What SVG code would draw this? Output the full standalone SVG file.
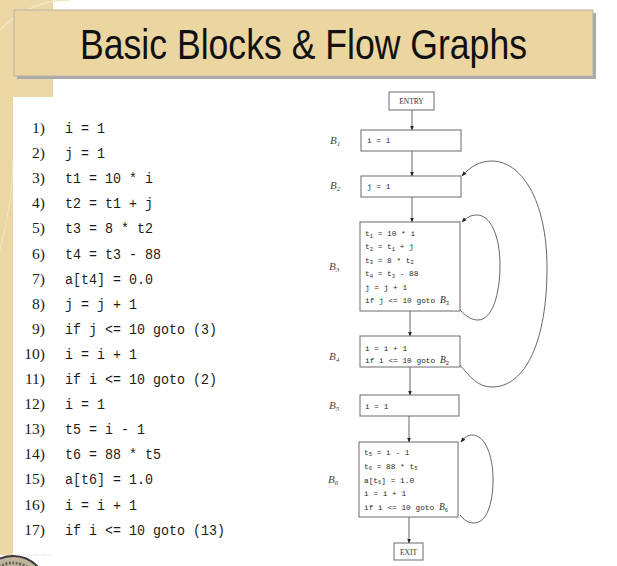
<svg xmlns="http://www.w3.org/2000/svg" width="617" height="566" viewBox="0 0 617 566">
<style>
.code{font-family:"Liberation Mono","DejaVu Sans Mono",monospace;font-size:14.5px;fill:#1a1a1a}
.num{font-family:"Liberation Serif","DejaVu Serif",serif;font-size:15.5px;fill:#1a1a1a;text-anchor:end}
.box{fill:#fff;stroke:#6a6a6a;stroke-width:1}
.bt{font-family:"Liberation Mono","DejaVu Sans Mono",monospace;font-size:7.8px;fill:#2a2a2a}
.sub{font-size:5.5px}
.lbl{font-family:"Liberation Serif","DejaVu Serif",serif;font-style:italic;font-size:11px;fill:#444}
.lsub{font-size:7px}
.edge{fill:none;stroke:#555;stroke-width:0.9}
</style>
<defs>
<marker id="ah" viewBox="0 0 10 10" refX="9" refY="5" markerWidth="5" markerHeight="5" orient="auto" markerUnits="userSpaceOnUse">
<path d="M0,1 L10,5 L0,9 z" fill="#222"/>
</marker>
</defs>
<rect x="0" y="0" width="617" height="566" fill="#fff"/>
<g id="decor">
<rect x="0" y="0" width="53" height="97" fill="#ecd7a6"/>
<rect x="0" y="0" width="13" height="555" fill="#ecd6a4"/>
<path d="M0,30 Q30,0 70,0" fill="none" stroke="#f3e6c6" stroke-width="1.5"/>
<path d="M0,250 Q13,200 13,160" fill="none" stroke="#f3e6c6" stroke-width="1"/>
<line x1="13" y1="555" x2="53" y2="555" stroke="#ccc" stroke-width="0.8" stroke-dasharray="1,1"/>
<circle cx="13" cy="590" r="34" fill="#bfb59c" stroke="#3a3a3a" stroke-width="2"/>
<circle cx="13" cy="590" r="27" fill="none" stroke="#6a6458" stroke-width="3" stroke-dasharray="2,1.5"/>
</g>
<g id="title">
<rect x="17" y="13" width="579" height="66" fill="#a9a9a9"/>
<rect x="14" y="10" width="579" height="66" fill="#ebd6a2" stroke="#b8b2a2" stroke-width="1"/>
<text x="80" y="59" font-family="Liberation Sans, Arial, sans-serif" font-size="42" fill="#111" textLength="447" lengthAdjust="spacingAndGlyphs">Basic Blocks &amp; Flow Graphs</text>
</g>
<g id="code">
<text class="num" x="45" y="133">1)</text><text class="code" x="65" y="133" textLength="40" lengthAdjust="spacingAndGlyphs">i = 1</text>
<text class="num" x="45" y="158.1">2)</text><text class="code" x="65" y="158.1" textLength="40" lengthAdjust="spacingAndGlyphs">j = 1</text>
<text class="num" x="45" y="183.2">3)</text><text class="code" x="65" y="183.2" textLength="88" lengthAdjust="spacingAndGlyphs">t1 = 10 * i</text>
<text class="num" x="45" y="208.3">4)</text><text class="code" x="65" y="208.3" textLength="88" lengthAdjust="spacingAndGlyphs">t2 = t1 + j</text>
<text class="num" x="45" y="233.4">5)</text><text class="code" x="65" y="233.4" textLength="88" lengthAdjust="spacingAndGlyphs">t3 = 8 * t2</text>
<text class="num" x="45" y="258.5">6)</text><text class="code" x="65" y="258.5" textLength="96" lengthAdjust="spacingAndGlyphs">t4 = t3 - 88</text>
<text class="num" x="45" y="283.6">7)</text><text class="code" x="65" y="283.6" textLength="88" lengthAdjust="spacingAndGlyphs">a[t4] = 0.0</text>
<text class="num" x="45" y="308.7">8)</text><text class="code" x="65" y="308.7" textLength="72" lengthAdjust="spacingAndGlyphs">j = j + 1</text>
<text class="num" x="45" y="333.8">9)</text><text class="code" x="65" y="333.8" textLength="152" lengthAdjust="spacingAndGlyphs">if j &lt;= 10 goto (3)</text>
<text class="num" x="45" y="358.9">10)</text><text class="code" x="65" y="358.9" textLength="72" lengthAdjust="spacingAndGlyphs">i = i + 1</text>
<text class="num" x="45" y="384">11)</text><text class="code" x="65" y="384" textLength="152" lengthAdjust="spacingAndGlyphs">if i &lt;= 10 goto (2)</text>
<text class="num" x="45" y="409.1">12)</text><text class="code" x="65" y="409.1" textLength="40" lengthAdjust="spacingAndGlyphs">i = 1</text>
<text class="num" x="45" y="434.2">13)</text><text class="code" x="65" y="434.2" textLength="80" lengthAdjust="spacingAndGlyphs">t5 = i - 1</text>
<text class="num" x="45" y="459.3">14)</text><text class="code" x="65" y="459.3" textLength="96" lengthAdjust="spacingAndGlyphs">t6 = 88 * t5</text>
<text class="num" x="45" y="484.4">15)</text><text class="code" x="65" y="484.4" textLength="88" lengthAdjust="spacingAndGlyphs">a[t6] = 1.0</text>
<text class="num" x="45" y="509.5">16)</text><text class="code" x="65" y="509.5" textLength="72" lengthAdjust="spacingAndGlyphs">i = i + 1</text>
<text class="num" x="45" y="534.6">17)</text><text class="code" x="65" y="534.6" textLength="160" lengthAdjust="spacingAndGlyphs">if i &lt;= 10 goto (13)</text>
</g>
<g id="edges">
<line class="edge" x1="412" y1="110" x2="412" y2="130" marker-end="url(#ah)"/>
<line class="edge" x1="412" y1="151" x2="412" y2="176" marker-end="url(#ah)"/>
<line class="edge" x1="412" y1="197" x2="412" y2="222" marker-end="url(#ah)"/>
<line class="edge" x1="410" y1="311" x2="410" y2="336" marker-end="url(#ah)"/>
<line class="edge" x1="410" y1="367" x2="410" y2="395" marker-end="url(#ah)"/>
<line class="edge" x1="409" y1="416" x2="409" y2="442" marker-end="url(#ah)"/>
<line class="edge" x1="409" y1="517" x2="409" y2="543" marker-end="url(#ah)"/>
<path class="edge" d="M460,310 C466,316 471,320 478,320 C492,320 500,295 500,265 C500,235 490,215 477,215 C471,215 467,217 462,222" marker-end="url(#ah)"/>
<path class="edge" d="M460,365 C470,377 478,387 492,387 C526,387 547,340 547,268 C547,198 520,161 492,161 C480,161 471,166 462,176" marker-end="url(#ah)"/>
<path class="edge" d="M460,515 C464,520 468,523 474,523 C486,523 493,505 493,480 C493,455 485,435 472,435 C468,435 465,437 461,442" marker-end="url(#ah)"/>
</g>
<g id="entry">
<rect class="box" x="389" y="92" width="45" height="18"/>
<text x="411.5" y="104" font-family="Liberation Serif, serif" font-size="7.5" fill="#333" text-anchor="middle">ENTRY</text>
</g>
<g id="B1">
<text class="lbl" x="330" y="144">B<tspan class="lsub" dy="2">1</tspan></text>
<rect class="box" x="361" y="130" width="100" height="21"/>
<text class="bt" x="367" y="143">i = 1</text>
</g>
<g id="B2">
<text class="lbl" x="330" y="189">B<tspan class="lsub" dy="2">2</tspan></text>
<rect class="box" x="361" y="176" width="100" height="21"/>
<text class="bt" x="367" y="189">j = 1</text>
</g>
<g id="B3">
<text class="lbl" x="329" y="270">B<tspan class="lsub" dy="2">3</tspan></text>
<rect class="box" x="360" y="222" width="100" height="89"/>
<text class="bt" x="365" y="236">t<tspan class="sub" dy="1.5">1</tspan><tspan dy="-1.5"> = 10 * i</tspan></text>
<text class="bt" x="365" y="249.4">t<tspan class="sub" dy="1.5">2</tspan><tspan dy="-1.5"> = t</tspan><tspan class="sub" dy="1.5">1</tspan><tspan dy="-1.5"> + j</tspan></text>
<text class="bt" x="365" y="262.8">t<tspan class="sub" dy="1.5">3</tspan><tspan dy="-1.5"> = 8 * t</tspan><tspan class="sub" dy="1.5">2</tspan></text>
<text class="bt" x="365" y="276.2">t<tspan class="sub" dy="1.5">4</tspan><tspan dy="-1.5"> = t</tspan><tspan class="sub" dy="1.5">3</tspan><tspan dy="-1.5"> - 88</tspan></text>
<text class="bt" x="365" y="289.6">j = j + 1</text>
<text class="bt" x="365" y="303">if j &lt;= 10 goto <tspan font-family="Liberation Serif, serif" font-style="italic" font-size="9.5">B</tspan><tspan class="sub" dy="1.5">3</tspan></text>
</g>
<g id="B4">
<text class="lbl" x="329" y="360">B<tspan class="lsub" dy="2">4</tspan></text>
<rect class="box" x="360" y="336" width="100" height="31"/>
<text class="bt" x="365" y="350.5">i = i + 1</text>
<text class="bt" x="365" y="363">if i &lt;= 10 goto <tspan font-family="Liberation Serif, serif" font-style="italic" font-size="9.5">B</tspan><tspan class="sub" dy="1.5">2</tspan></text>
</g>
<g id="B5">
<text class="lbl" x="329" y="409">B<tspan class="lsub" dy="2">5</tspan></text>
<rect class="box" x="360" y="395" width="99" height="21"/>
<text class="bt" x="365" y="409">i = 1</text>
</g>
<g id="B6">
<text class="lbl" x="328" y="483">B<tspan class="lsub" dy="2">6</tspan></text>
<rect class="box" x="359" y="442" width="99" height="75"/>
<text class="bt" x="364" y="454.5">t<tspan class="sub" dy="1.5">5</tspan><tspan dy="-1.5"> = i - 1</tspan></text>
<text class="bt" x="364" y="468.5">t<tspan class="sub" dy="1.5">6</tspan><tspan dy="-1.5"> = 88 * t</tspan><tspan class="sub" dy="1.5">5</tspan></text>
<text class="bt" x="364" y="482.5">a[t<tspan class="sub" dy="1.5">6</tspan><tspan dy="-1.5">] = 1.0</tspan></text>
<text class="bt" x="364" y="496">i = i + 1</text>
<text class="bt" x="364" y="510">if i &lt;= 10 goto <tspan font-family="Liberation Serif, serif" font-style="italic" font-size="9.5">B</tspan><tspan class="sub" dy="1.5">6</tspan></text>
</g>
<g id="exit">
<rect class="box" x="394" y="543" width="29" height="17"/>
<text x="408.5" y="554.5" font-family="Liberation Serif, serif" font-size="7.5" fill="#333" text-anchor="middle">EXIT</text>
</g>
</svg>
